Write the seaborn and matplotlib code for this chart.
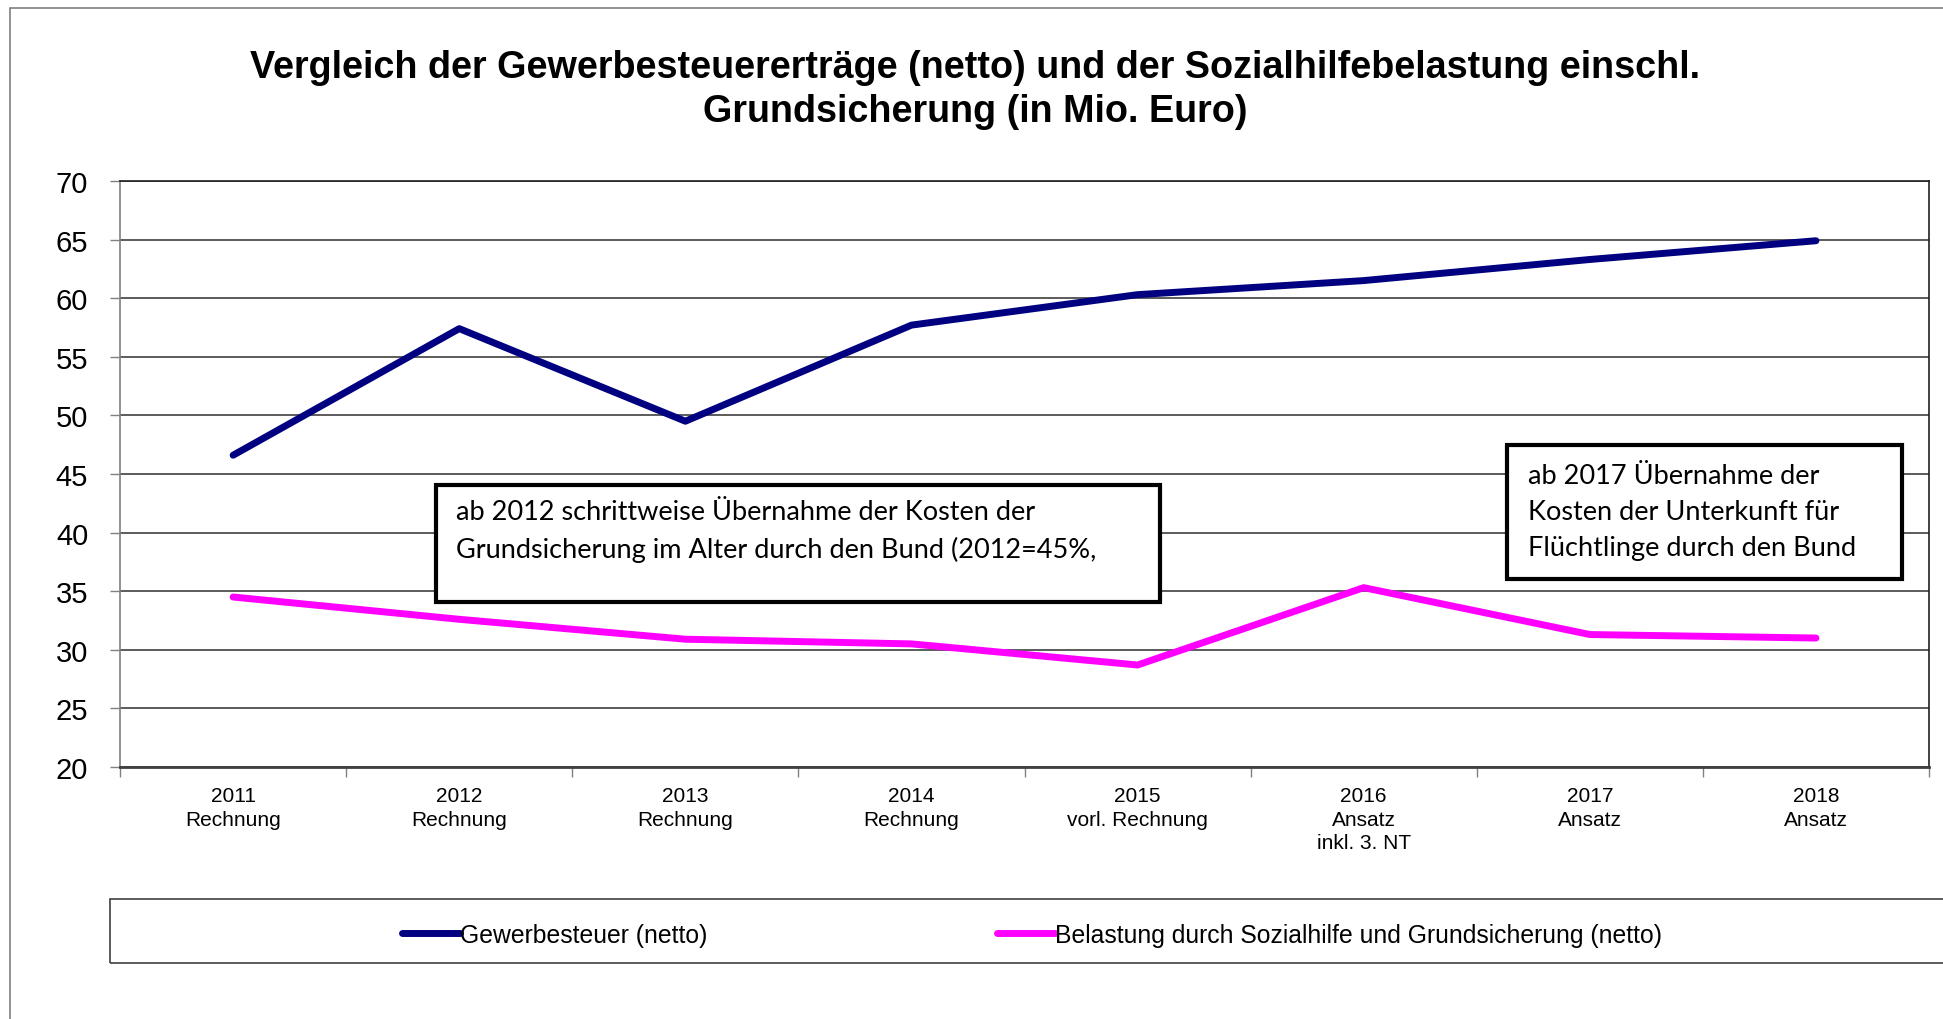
import pandas as pd
import seaborn as sns
import matplotlib.pyplot as plt
from matplotlib.patches import Rectangle

# data (Mio. Euro)
jahre = ['2011\nRechnung', '2012\nRechnung', '2013\nRechnung', '2014\nRechnung',
         '2015\nvorl. Rechnung', '2016\nAnsatz\ninkl. 3. NT', '2017\nAnsatz', '2018\nAnsatz']
gewerbesteuer = [46.6, 57.4, 49.5, 57.7, 60.3, 61.5, 63.3, 64.9]
sozialhilfe = [34.5, 32.6, 30.9, 30.5, 28.7, 35.3, 31.3, 31.0]
reihen = ['Gewerbesteuer (netto)', 'Belastung durch Sozialhilfe und Grundsicherung (netto)']
farben = ['#000080', '#FF00FF']
y_ticks = list(range(20, 75, 5))

titel = ('Vergleich der Gewerbesteuererträge (netto) und der Sozialhilfebelastung einschl.\n'
         'Grundsicherung (in Mio. Euro)')
hinweis_1 = ('ab 2012 schrittweise Übernahme der Kosten der\n'
             'Grundsicherung im Alter durch den Bund (2012=45%,')
hinweis_2 = 'ab 2017 Übernahme der\nKosten der Unterkunft für\nFlüchtlinge durch den Bund'

df = pd.DataFrame({
    'jahr': jahre * 2,
    'wert': gewerbesteuer + sozialhilfe,
    'reihe': [reihen[0]] * len(jahre) + [reihen[1]] * len(jahre),
})

sns.set_theme(style='white')
plt.rcParams['font.family'] = ['Liberation Sans', 'DejaVu Sans']
plt.rcParams['text.color'] = 'black'
plt.rcParams['xtick.color'] = 'black'
plt.rcParams['ytick.color'] = 'black'

fig = plt.figure(figsize=(19.43, 10.20), dpi=100)
ax = fig.add_axes([0.0618, 0.2471, 0.9310, 0.5745])

sns.lineplot(data=df, x='jahr', y='wert', hue='reihe', palette=farben, sort=False,
             linewidth=5, ax=ax, zorder=3)

ax.set_xlim(-0.5, len(jahre) - 0.5)
ax.set_ylim(20, 70)
ax.set_yticks(y_ticks)
ax.set_xlabel('')
ax.set_ylabel('')
ax.grid(axis='y', color='#404040', linewidth=1.2)
ax.set_axisbelow(True)

for side in ['top', 'right']:
    ax.spines[side].set_color('#202020')
    ax.spines[side].set_linewidth(1.2)
ax.spines['left'].set_color('#808080')
ax.spines['left'].set_linewidth(1.2)
ax.spines['bottom'].set_color('#404040')
ax.spines['bottom'].set_linewidth(2)

ax.tick_params(axis='y', labelsize=21, length=7, width=1, color='#808080',
               labelcolor='black', direction='out', left=True, pad=16)
ax.set_xticks(range(len(jahre)))
ax.set_xticklabels(jahre, fontsize=15, linespacing=1.3)
ax.set_xticks([i - 0.5 for i in range(len(jahre) + 1)], minor=True)
ax.tick_params(axis='x', which='major', length=0, pad=14, labelcolor='black')
ax.tick_params(axis='x', which='minor', length=7, width=1, color='#808080',
               direction='out', bottom=True)

fig.suptitle(titel, x=0.502, y=0.912, va='center', fontsize=27.2,
             fontweight='bold', linespacing=1.3, color='black')

# annotation boxes
fig.patches.append(Rectangle((0.2244, 0.4088), 0.3726, 0.1147, transform=fig.transFigure,
                             facecolor='white', edgecolor='black', linewidth=3, zorder=5))
fig.text(0.2347, 0.479, hinweis_1, family=['Lato', 'DejaVu Sans'], fontsize=19.5,
         va='center', ha='left', linespacing=1.6, zorder=6, color='black')
fig.patches.append(Rectangle((0.7756, 0.4314), 0.2033, 0.1314, transform=fig.transFigure,
                             facecolor='white', edgecolor='black', linewidth=3, zorder=5))
fig.text(0.7864, 0.498, hinweis_2, family=['Lato', 'DejaVu Sans'], fontsize=19.5,
         va='center', ha='left', linespacing=1.55, zorder=6, color='black')

# legend box and outer chart frame
fig.patches.append(Rectangle((0.0566, 0.0549), 1.0, 0.0627, transform=fig.transFigure,
                             facecolor='none', edgecolor='#404040', linewidth=1.2))
fig.patches.append(Rectangle((0.0051, -0.1), 1.2, 1.0912, transform=fig.transFigure,
                             facecolor='none', edgecolor='#808080', linewidth=1.2))

sns.move_legend(ax, loc='center left', bbox_to_anchor=(0.2005, 0.0824),
                bbox_transform=fig.transFigure, ncol=2, frameon=False, title=None,
                fontsize=17.8, handlelength=2.35, handletextpad=0.0, columnspacing=11.7,
                borderpad=0)

fig.savefig('out.png', dpi=100)
